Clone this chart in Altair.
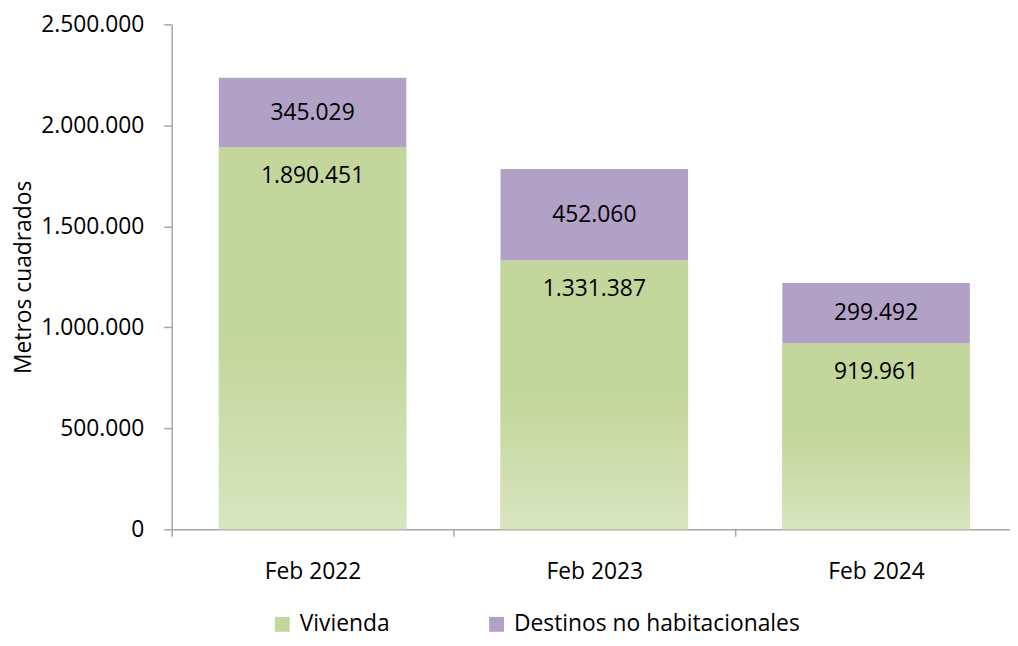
import altair as alt
import pandas as pd

periods = ["Feb 2022", "Feb 2023", "Feb 2024"]
vivienda = [1890451, 1331387, 919961]
destinos = [345029, 452060, 299492]
series = ["Vivienda", "Destinos no habitacionales"]
colors = ["#c3d69b", "#b2a1c7"]

def fmt(v):
    return f"{v:,}".replace(",", ".")

rows = []
for p, v, d in zip(periods, vivienda, destinos):
    rows.append({"periodo": p, "serie": series[0], "y0": 0, "y1": v, "lab": fmt(v), "ylab": v, "ord": 0})
    rows.append({"periodo": p, "serie": series[1], "y0": v, "y1": v + d, "lab": fmt(d), "ylab": v + d / 2, "ord": 1})
df = pd.DataFrame(rows)

FONT = "Open Sans"
FS = 23
BAR = 189

xscale = alt.Scale(paddingInner=0, paddingOuter=0, range=[0, 852])

x = alt.X("periodo:N", sort=periods, title=None, scale=xscale,
          axis=alt.Axis(labelAngle=0, labelFontSize=FS, labelPadding=25, tickBand="extent",
                        tickSize=7, domainColor="#a6a6a6", tickColor="#a6a6a6",
                        labelColor="#000000", labelFont=FONT, domainWidth=1.5, tickWidth=1.5))

y_axis = alt.Axis(values=[0, 500000, 1000000, 1500000, 2000000, 2500000],
                  labelExpr="replace(format(datum.value, ','), regexp(',', 'g'), '.')",
                  labelFontSize=FS, labelPadding=20, tickSize=8, grid=False,
                  domainColor="#a6a6a6", tickColor="#a6a6a6", labelColor="#000000",
                  labelFont=FONT, titleFont=FONT, titleFontSize=FS, titleFontWeight="normal",
                  titleColor="#000000", titlePadding=5, domainWidth=1.5, tickWidth=1.5)

base = alt.Chart(df)

bars = base.mark_bar(size=BAR).encode(
    x=x,
    y=alt.Y("y0:Q", title="Metros cuadrados", scale=alt.Scale(domain=[0, 2500000], nice=False), axis=y_axis),
    y2="y1:Q",
    color=alt.Color("serie:N", sort=series,
                    scale=alt.Scale(domain=series, range=colors),
                    legend=alt.Legend(title=None, orient="none", direction="horizontal",
                                      legendX=100, legendY=593, symbolType="square",
                                      symbolSize=225, labelFontSize=FS, labelFont=FONT,
                                      labelColor="#000000", columnPadding=96, symbolStrokeWidth=0,
                                      labelOffset=6, labelLimit=500)),
)

grad = alt.Gradient(gradient="linear", x1=0, y1=0, x2=0, y2=1,
                    stops=[alt.GradientStop(offset=0, color="#c3d69b"),
                           alt.GradientStop(offset=0.5, color="#c3d69b"),
                           alt.GradientStop(offset=1, color="#d9e5bf")])

green = alt.Chart(df[df["serie"] == series[0]]).mark_bar(size=BAR, fill=grad).encode(
    x=alt.X("periodo:N", sort=periods, scale=xscale),
    y="y0:Q",
    y2="y1:Q",
)

lab_purple = alt.Chart(df[df["serie"] == series[1]]).mark_text(
    fontSize=FS, font=FONT, color="#000000", baseline="middle").encode(
    x=alt.X("periodo:N", sort=periods, scale=xscale),
    y="ylab:Q",
    text="lab:N",
)

lab_green = alt.Chart(df[df["serie"] == series[0]]).mark_text(
    fontSize=FS, font=FONT, color="#000000", baseline="middle", dy=29).encode(
    x=alt.X("periodo:N", sort=periods, scale=xscale),
    y="ylab:Q",
    text="lab:N",
)

chart = alt.layer(bars, green, lab_purple, lab_green).properties(
    width=845, height=509,
    autosize=alt.AutoSizeParams(type="none"),
    padding={"left": 165, "top": 14, "right": 0, "bottom": 107},
).configure_view(stroke=None).configure_axis(labelFont=FONT)

chart.save("out.html", embed_options={"renderer": "svg", "actions": False})
